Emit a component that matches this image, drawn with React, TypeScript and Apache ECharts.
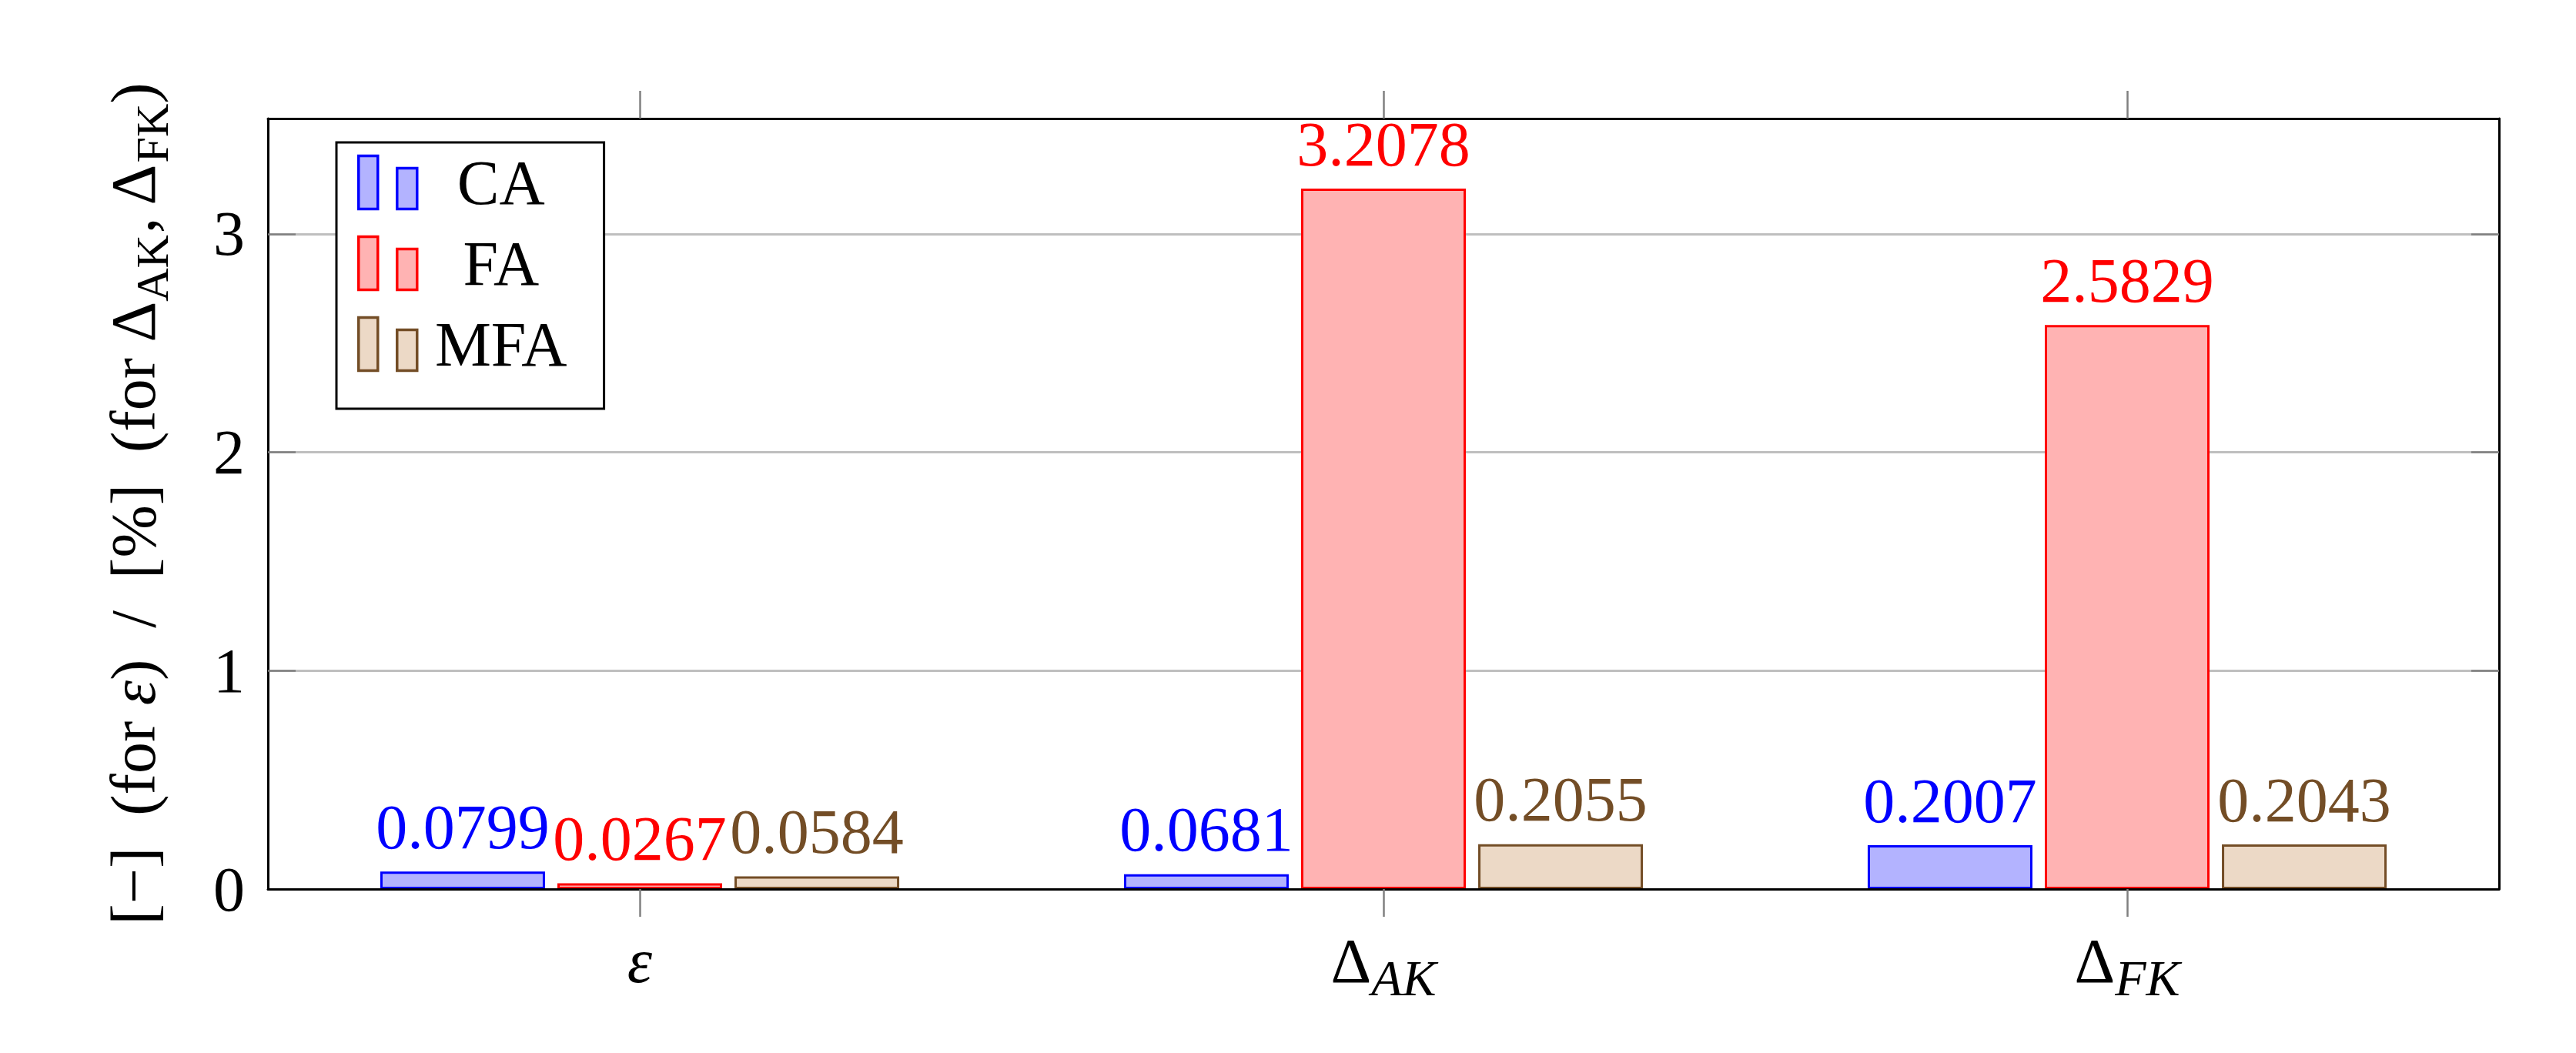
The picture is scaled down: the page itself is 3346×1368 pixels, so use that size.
import React, { useEffect, useRef } from "react";
import * as echarts from "echarts";

// ---- data ----
const categories = ["ε", "Δ_AK", "Δ_FK"];
const seriesNames = ["CA", "FA", "MFA"];
const caValues = [0.0799, 0.0681, 0.2007];
const faValues = [0.0267, 3.2078, 2.5829];
const mfaValues = [0.0584, 0.2055, 0.2043];
const yMin = 0;
const yMax = 3.5286;
const yInterval = 1;
const yAxisName =
  "[−]\u2002(for {e|ε})\u2002/\u2002[%]\u2002(for Δ{u|AK}, Δ{u|FK})";

// ---- styles ----
const FONT = "'Liberation Serif', 'Times New Roman', serif";
const FS = 82;
const colors = {
  CA: { fill: "#b3b3ff", stroke: "#0000ff" },
  FA: { fill: "#ffb3b3", stroke: "#ff0000" },
  MFA: { fill: "#ecd9c6", stroke: "#734d26" },
};
const legendIcon =
  "path://M0,0 L25,0 L25,69 L0,69 Z M50,16 L76,16 L76,69 L50,69 Z";

const richBase = {
  m: { fontFamily: FONT, fontSize: FS, lineHeight: 110, color: "#000" },
  e: { fontFamily: FONT, fontSize: FS, lineHeight: 110, fontStyle: "italic", color: "#000" },
  s: {
    fontFamily: FONT,
    fontSize: 66,
    lineHeight: 60,
    fontStyle: "italic",
    verticalAlign: "bottom",
    color: "#000",
  },
  u: {
    fontFamily: FONT,
    fontSize: 60,
    lineHeight: 60,
    verticalAlign: "bottom",
    color: "#000",
  },
};

function catLabel(v: string) {
  const [m, s] = v.split("_");
  return s ? `{m|${m}}{s|${s}}` : `{e|${m}}`;
}

function makeSeries(name: string, values: number[]) {
  const c = (colors as any)[name];
  return {
    name,
    type: "bar",
    data: values,
    barWidth: 214,
    barGap: "7.5%",
    itemStyle: { color: c.fill, borderColor: c.stroke, borderWidth: 3 },
    label: {
      show: true,
      position: "top",
      distance: 17,
      color: c.stroke,
      fontFamily: FONT,
      fontSize: FS,
      formatter: (p: any) => Number(p.value).toFixed(4),
    },
  };
}

export default function App() {
  const ref = useRef<HTMLDivElement>(null);
  useEffect(() => {
    if (!ref.current) return;
    const chart = echarts.init(ref.current, undefined, { renderer: "svg" });
    const tickStyle = { color: "#808080", width: 2.5 };
    const frameLine = { show: true, onZero: false, lineStyle: { color: "#000", width: 3 } };
    chart.setOption({
      animation: false,
      backgroundColor: "#fff",
      grid: { left: 348, right: 100, top: 154, bottom: 213, containLabel: false },
      legend: {
        orient: "vertical",
        left: 437,
        top: 185,
        padding: [11, 48, 43, 27],
        borderColor: "#000",
        borderWidth: 3,
        backgroundColor: "#fff",
        itemWidth: 76,
        itemHeight: 69,
        itemGap: 23,
        icon: legendIcon,
        itemStyle: { borderWidth: 3.5 },
        z: 10,
        data: seriesNames,
        formatter: (n: string) => `{t|${n}}`,
        textStyle: {
          rich: {
            t: {
              width: 208,
              align: "center",
              fontFamily: FONT,
              fontSize: FS,
              color: "#000",
            },
          },
        },
      },
      xAxis: [
        {
          type: "category",
          data: categories,
          position: "bottom",
          axisLine: frameLine,
          axisTick: { show: true, alignWithLabel: true, inside: false, length: 36, lineStyle: tickStyle },
          axisLabel: {
            margin: 38,
            formatter: catLabel,
            fontFamily: FONT,
            fontSize: FS,
            lineHeight: 110,
            color: "#000",
            rich: richBase,
          },
          splitLine: { show: false },
          z: 5,
        },
        {
          type: "category",
          data: categories,
          position: "top",
          axisLine: frameLine,
          axisTick: { show: true, alignWithLabel: true, inside: false, length: 36, lineStyle: tickStyle },
          axisLabel: { show: false },
          splitLine: { show: false },
          z: 5,
        },
      ],
      yAxis: [
        {
          type: "value",
          min: yMin,
          max: yMax,
          interval: yInterval,
          position: "left",
          axisLine: frameLine,
          axisTick: { show: true, inside: true, length: 36, lineStyle: tickStyle },
          axisLabel: {
            showMaxLabel: false,
            margin: 30,
            fontFamily: FONT,
            fontSize: FS,
            color: "#000",
          },
          splitLine: { show: true, showMaxLine: false, lineStyle: { color: "#bfbfbf", width: 3 } },
          name: yAxisName,
          nameLocation: "middle",
          nameGap: 120,
          nameTextStyle: {
            fontFamily: FONT,
            fontSize: FS,
            lineHeight: 110,
            color: "#000",
            rich: richBase,
          },
        },
        {
          type: "value",
          min: yMin,
          max: yMax,
          interval: yInterval,
          position: "right",
          axisLine: frameLine,
          axisTick: { show: true, inside: true, length: 36, lineStyle: tickStyle },
          axisLabel: { show: false },
          splitLine: { show: false },
        },
      ],
      series: [
        makeSeries("CA", caValues),
        makeSeries("FA", faValues),
        makeSeries("MFA", mfaValues),
      ],
    });
    return () => chart.dispose();
  }, []);
  return (
    <div
      ref={ref}
      style={{ position: "absolute", left: 0, top: 0, width: 3346, height: 1368 }}
    />
  );
}
